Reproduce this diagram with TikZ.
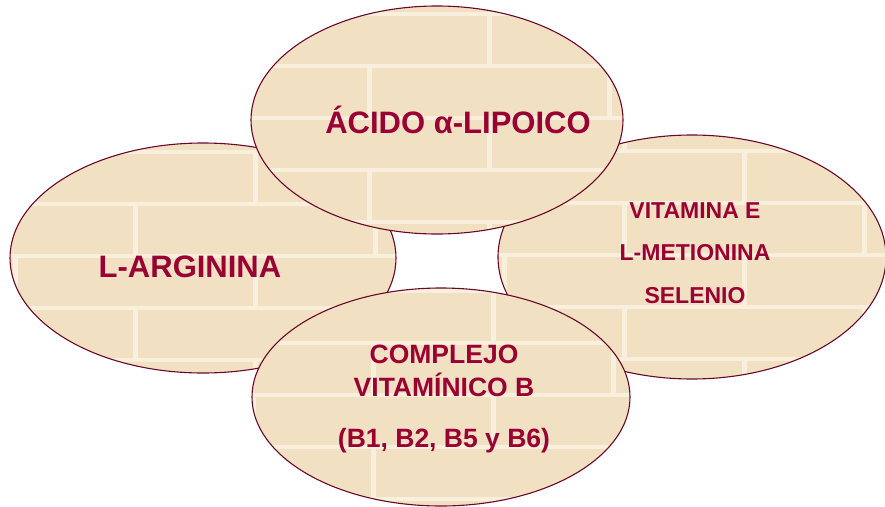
\documentclass[tikz,border=0pt]{standalone}
\usepackage{fontspec}
\setmainfont{Liberation Sans}
\usetikzlibrary{shapes.geometric}
\definecolor{brick}{RGB}{241,225,194}
\definecolor{mortar}{RGB}{248,240,220}
\definecolor{rim}{RGB}{105,8,42}
\definecolor{wine}{RGB}{153,0,51}
\tikzset{
  oval/.style={ellipse, draw=rim, line width=1.1pt, fill=brick, inner sep=0pt,
    path picture={
      \foreach \yy [count=\r] in {-160,-108,-56,-4,48,100}{
        \fill[mortar] (-210,\yy) rectangle (210,\yy+4);
        \pgfmathsetmacro\xo{mod(\r,2)*120}
        \foreach \xx in {-480,-240,0,240}
          \fill[mortar] (\xx+\xo+50,\yy) rectangle (\xx+\xo+55,\yy+52);
      }
    }},
  txt/.style={text=wine, anchor=base, inner sep=0pt}
}

\begin{document}
\begin{tikzpicture}[x=1pt, y=-1pt]
\useasboundingbox (0,0) rectangle (885,506);
\node[oval, minimum width=386pt, minimum height=230pt] (arginina) at (203,258) {};
\node[oval, minimum width=388pt, minimum height=244pt] (vitaminas) at (692,257) {};
\node[oval, minimum width=372pt, minimum height=228pt] (lipoico) at (437,120) {};
\node[oval, minimum width=378pt, minimum height=218pt] (complejo) at (441,397) {};

\node[txt, font=\fontsize{31}{36}\selectfont\bfseries] (lipoicotxt) at (458,133) {ÁCIDO α-LIPOICO};
\node[txt, font=\fontsize{31}{36}\selectfont\bfseries] (argininatxt) at (190,277) {L-ARGININA};
\node[txt, font=\fontsize{23}{28}\selectfont\bfseries] (vitE) at (695,218) {VITAMINA E};
\node[txt, font=\fontsize{23}{28}\selectfont\bfseries] (metionina) at (695,260) {L-METIONINA};
\node[txt, font=\fontsize{23}{28}\selectfont\bfseries] (selenio) at (695,303) {SELENIO};
\node[txt, font=\fontsize{26.5}{30}\selectfont\bfseries] (complejo1) at (444,363) {COMPLEJO};
\node[txt, font=\fontsize{26.5}{30}\selectfont\bfseries] (complejo2) at (444,396) {VITAMÍNICO B};
\node[txt, font=\fontsize{26.5}{30}\selectfont\bfseries] (complejo3) at (444,447) {(B1, B2, B5 y B6)};
\end{tikzpicture}
\end{document}
